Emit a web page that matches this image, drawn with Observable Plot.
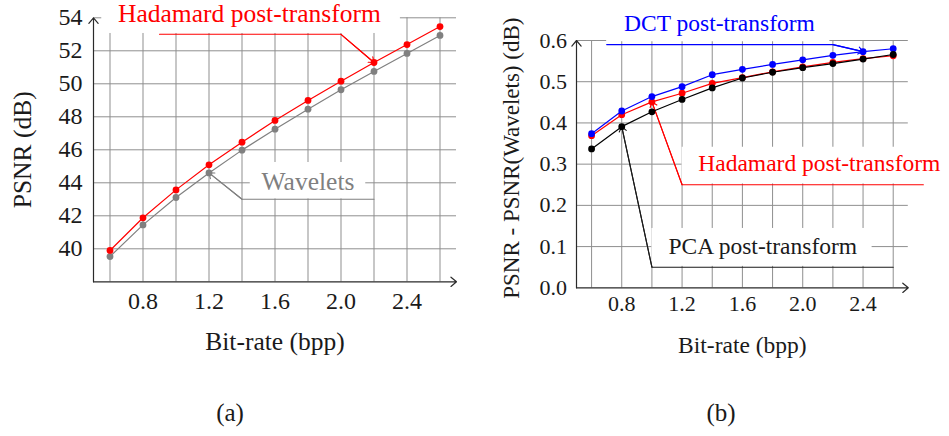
<!DOCTYPE html>
<html>
<head>
<meta charset="utf-8">
<script src="https://cdn.jsdelivr.net/npm/d3@7"></script>
<script src="https://cdn.jsdelivr.net/npm/@observablehq/plot@0.6"></script>
<style>
  body { margin: 0; background: #fff; }
  #wrap { position: relative; width: 949px; height: 436px; overflow: hidden; font-family: "Liberation Serif", serif; color: #1a1a1a; }
  #pa, #pb { position: absolute; top: 0; }
  #pa { left: 0; width: 470px; }
  #pb { left: 470px; width: 479px; }
  .cap { position: absolute; font-size: 25px; transform: translate(-50%, -50%); white-space: nowrap; }
</style>
</head>
<body>
<div id="wrap">
  <div id="pa"></div>
  <div id="pb"></div>
  <div class="cap" style="left:230px; top:413px">(a)</div>
  <div class="cap" style="left:721px; top:413px">(b)</div>
</div>
<script>
// ---------- data ----------
const bitrate = [0.6, 0.8, 1.0, 1.2, 1.4, 1.6, 1.8, 2.0, 2.2, 2.4, 2.6];

const psnrWavelets = [39.53, 41.45, 43.11, 44.60, 45.98, 47.25, 48.46, 49.64, 50.75, 51.84, 52.93];
const psnrHadamard = [39.90, 41.88, 43.57, 45.09, 46.46, 47.78, 48.99, 50.16, 51.29, 52.38, 53.47];

const gainDCT      = [0.374, 0.429, 0.464, 0.488, 0.517, 0.530, 0.542, 0.553, 0.564, 0.573, 0.580];
const gainHadamard = [0.369, 0.420, 0.451, 0.472, 0.496, 0.510, 0.524, 0.536, 0.547, 0.556, 0.563];
const gainPCA      = [0.337, 0.391, 0.427, 0.457, 0.485, 0.509, 0.523, 0.534, 0.544, 0.555, 0.566];

const xTickLabels = [0.8, 1.2, 1.6, 2.0, 2.4];
const yTicksA = [40, 42, 44, 46, 48, 50, 52, 54];
const yTicksB = [0.0, 0.1, 0.2, 0.3, 0.4, 0.5, 0.6];
const xDomain = [0.5, 2.7];
const yDomainA = [38, 54];
const yDomainB = [0, 0.6];

const xTitle = "Bit-rate (bpp)";
const yTitleA = "PSNR (dB)";
const yTitleB = "PSNR - PSNR(Wavelets) (dB)";

// annotations (pins) in data units
const notesA = [
  {text: "Hadamard post-transform", color: "#ff0000", tx: 1.445, ty: 54.25,
   box: [0.55, 2.36, 53.05, 55.2], path: [[0.9, 53], [2.0, 53], [2.2, 51.29]]},
  {text: "Wavelets", color: "#808080", tx: 1.8, ty: 44.08,
   box: [1.45, 2.15, 43.02, 45.23], path: [[2.2, 43], [1.4, 43], [1.2, 44.6]]}
];
const notesB = [
  {text: "DCT post-transform", color: "#0000ff", tx: 1.448, ty: 0.641,
   box: [0.70, 2.18, 0.597, 0.70], path: [[0.7, 0.59], [2.2, 0.59], [2.4, 0.573]]},
  {text: "Hadamard post-transform", color: "#ff0000", tx: 2.11, ty: 0.301,
   box: [1.2, 2.9, 0.252, 0.341], path: [[2.8, 0.25], [1.2, 0.25], [1.0, 0.451]]},
  {text: "PCA post-transform", color: "#1a1a1a", tx: 1.735, ty: 0.101,
   box: [1.0, 2.46, 0.052, 0.144], path: [[2.6, 0.05], [1.0, 0.05], [0.8, 0.391]]}
];

// ---------- helpers ----------
const GRID = "#8f8f8f";
const AXIS = "#2a2a2a";
const FONT = "Liberation Serif";
const fmt1 = d3.format(".1f");
const table = (ys) => bitrate.map((x, i) => ({x, y: ys[i]}));

function seriesMarks(ys, color) {
  const d = table(ys);
  return [
    Plot.line(d, {x: "x", y: "y", stroke: color, strokeWidth: 1.2}),
    Plot.dot(d, {x: "x", y: "y", fill: color, r: 3.4})
  ];
}

function noteMarks(notes) {
  const marks = [];
  marks.push(Plot.rect(notes, {x1: d => d.box[0], x2: d => d.box[1], y1: d => d.box[2], y2: d => d.box[3], fill: "white"}));
  for (const n of notes) {
    const pts = n.path.map(([x, y]) => ({x, y}));
    marks.push(Plot.line(pts, {x: "x", y: "y", stroke: n.color, strokeWidth: 1.1}));
    const a = pts[pts.length - 2], b = pts[pts.length - 1];
    marks.push(Plot.arrow([{a, b}], {x1: d => d.a.x, y1: d => d.a.y, x2: d => d.b.x, y2: d => d.b.y,
      stroke: n.color, strokeWidth: 1.1, headLength: 8, headAngle: 75}));
  }
  return marks;
}
function noteTexts(notes, fontSize) {
  return Plot.text(notes, {x: "tx", y: "ty", text: "text", fill: d => d.color, fontSize});
}

function axisFrame(yDomain) {
  return [
    Plot.arrow([0], {x1: xDomain[0], y1: yDomain[0], x2: xDomain[0], y2: yDomain[1], stroke: AXIS, strokeWidth: 1.2, headLength: 9, headAngle: 80}),
    Plot.arrow([0], {x1: xDomain[0], y1: yDomain[0], x2: xDomain[1], y2: yDomain[0], stroke: AXIS, strokeWidth: 1.2, headLength: 9, headAngle: 80})
  ];
}

// ---------- panel (a) ----------
const plotA = Plot.plot({
  width: 470, height: 360,
  marginLeft: 93, marginRight: 14, marginTop: 17.3, marginBottom: 78.7,
  x: {domain: xDomain},
  y: {domain: yDomainA},
  style: {fontFamily: FONT, fontSize: "24px", color: "#1a1a1a", background: "transparent", overflow: "visible"},
  marks: [
    Plot.ruleX(bitrate, {x: d => d, y1: yDomainA[0], y2: yDomainA[1], stroke: GRID, strokeWidth: 1}),
    Plot.ruleY(yTicksA, {y: d => d, x1: xDomain[0], x2: xDomain[1], stroke: GRID, strokeWidth: 1}),
    ...noteMarks(notesA),
    ...axisFrame(yDomainA),
    ...seriesMarks(psnrWavelets, "#808080"),
    ...seriesMarks(psnrHadamard, "#ff0000"),
    noteTexts(notesA, 25.5),
    Plot.axisX(xTickLabels, {tickSize: 0, tickPadding: 10, tickFormat: fmt1, label: null}),
    Plot.axisY(yTicksA, {tickSize: 0, tickPadding: 11, label: null}),
    Plot.text([xTitle], {frameAnchor: "bottom", lineAnchor: "middle", textAnchor: "middle", dy: 60.4, text: d => d, fontSize: 25.5}),
    Plot.text([yTitleA], {frameAnchor: "left", lineAnchor: "middle", textAnchor: "middle", rotate: -90, dx: -71, text: d => d, fontSize: 25.5})
  ]
});
document.getElementById("pa").append(plotA);

// ---------- panel (b) ----------
const plotB = Plot.plot({
  width: 479, height: 360,
  marginLeft: 106, marginRight: 41.2, marginTop: 40, marginBottom: 72.7,
  x: {domain: xDomain},
  y: {domain: yDomainB},
  style: {fontFamily: FONT, fontSize: "22px", color: "#1a1a1a", background: "transparent", overflow: "visible"},
  marks: [
    Plot.ruleX(bitrate, {x: d => d, y1: yDomainB[0], y2: yDomainB[1], stroke: GRID, strokeWidth: 1}),
    Plot.ruleY(yTicksB.slice(1), {y: d => d, x1: xDomain[0], x2: xDomain[1], stroke: GRID, strokeWidth: 1}),
    ...noteMarks(notesB),
    ...axisFrame(yDomainB),
    ...seriesMarks(gainHadamard, "#ff0000"),
    ...seriesMarks(gainDCT, "#0000ff"),
    ...seriesMarks(gainPCA, "#000000"),
    noteTexts(notesB, 23.5),
    Plot.axisX(xTickLabels, {tickSize: 0, tickPadding: 7.5, tickFormat: fmt1, label: null}),
    Plot.axisY(yTicksB, {tickSize: 0, tickPadding: 9.5, tickFormat: fmt1, label: null}),
    Plot.text([xTitle], {frameAnchor: "bottom", lineAnchor: "middle", textAnchor: "middle", dy: 57.7, text: d => d, fontSize: 23.5}),
    Plot.text([yTitleB], {frameAnchor: "left", lineAnchor: "middle", textAnchor: "middle", rotate: -90, dx: -65, dy: -6, text: d => d, fontSize: 23})
  ]
});
document.getElementById("pb").append(plotB);
</script>
</body>
</html>
